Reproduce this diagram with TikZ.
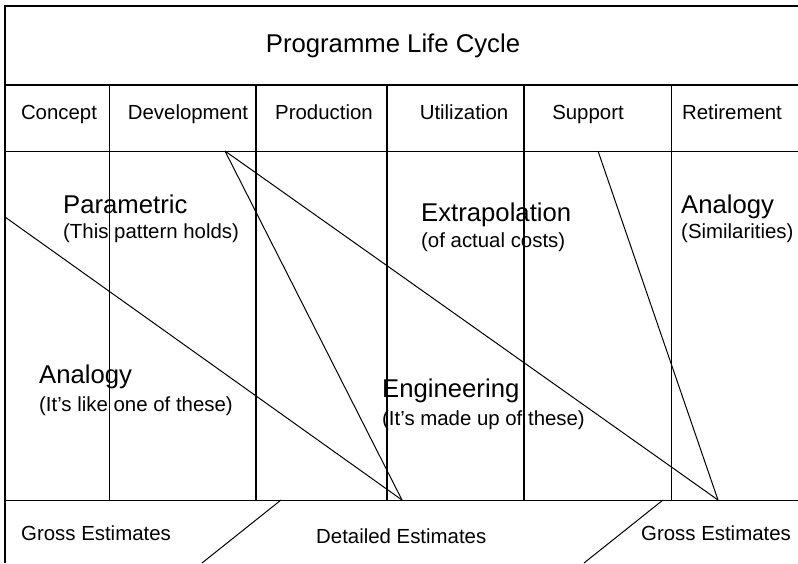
\documentclass[tikz,border=0pt]{standalone}
\usepackage{fontspec}
\setmainfont{Liberation Sans}
\usetikzlibrary{arrows.meta}

\begin{document}
\begin{tikzpicture}[
  x=1pt, y=-1pt,
  thn/.style={line width=1pt},
  thk/.style={line width=2pt},
  bigtxt/.style={font=\fontsize{25.7}{28}\selectfont,inner sep=0pt},
  smalltxt/.style={font=\fontsize{20.4}{23}\selectfont,inner sep=0pt}
]
  \useasboundingbox (0,0) rectangle (798,563);

  % frame and rows
  \draw[thk] (5,563) -- (5,6) -- (798,6);
  \draw[thk] (5,85) -- (798,85);
  \draw[thn] (5,151) -- (798,151);
  \draw[thn] (5,500) -- (798,500);

  % phase columns
  \draw[thn] (109,85) -- (109,500);
  \draw[thk] (256,85) -- (256,500);
  \draw[thk] (387,85) -- (387,500);
  \draw[thk] (524,85) -- (524,500);
  \draw[thn] (671,85) -- (671,500);

  % title
  \node[bigtxt,anchor=base] (title) at (393,52) {Programme Life Cycle};

  % phases
  \node[smalltxt,anchor=base] (p1) at (59,119) {Concept};
  \node[smalltxt,anchor=base] (p2) at (188,119) {Development};
  \node[smalltxt,anchor=base] (p3) at (324,119) {Production};
  \node[smalltxt,anchor=base] (p4) at (464,119) {Utilization};
  \node[smalltxt,anchor=base] (p5) at (588,119) {Support};
  \node[smalltxt,anchor=base] (p6) at (732,119) {Retirement};

  % methods
  \node[bigtxt,anchor=base west] (m1) at (63,213) {Parametric};
  \node[smalltxt,anchor=base west] (m1n) at (63,238) {(This pattern holds)};
  \node[bigtxt,anchor=base west] (m2) at (421,221) {Extrapolation};
  \node[smalltxt,anchor=base west] (m2n) at (421,247) {(of actual costs)};
  \node[bigtxt,anchor=base west] (m3) at (681,213) {Analogy};
  \node[smalltxt,anchor=base west] (m3n) at (681,238) {(Similarities)};
  \node[bigtxt,anchor=base west] (m4) at (39,383) {Analogy};
  \node[smalltxt,anchor=base west] (m4n) at (39,411) {(It’s like one of these)};
  \node[bigtxt,anchor=base west] (m5) at (382,397) {Engineering};
  \node[smalltxt,anchor=base west] (m5n) at (382,425) {(It’s made up of these)};

  % estimates
  \node[smalltxt,anchor=base west] (e1) at (21,540) {Gross Estimates};
  \node[smalltxt,anchor=base west] (e2) at (316,543) {Detailed Estimates};
  \node[smalltxt,anchor=base west] (e3) at (641,540) {Gross Estimates};

  % corner points
  \coordinate (c1) at (5,217);
  \coordinate (c2) at (225,151);
  \coordinate (c3) at (598,151);
  \coordinate (c12) at (402,500);
  \coordinate (c23) at (718,500);
  \coordinate (g1) at (281,500);
  \coordinate (g1e) at (202,563);
  \coordinate (g2) at (663,500);
  \coordinate (g2e) at (584,563);

  % wedges
  \draw[thn] (c1) -- (c12);
  \draw[thn] (c2) -- (c12);
  \draw[thn] (c2) -- (c23);
  \draw[thn] (c3) -- (c23);

  % estimate dividers
  \draw[thn] (g1) -- (g1e);
  \draw[thn] (g2) -- (g2e);

\end{tikzpicture}
\end{document}
